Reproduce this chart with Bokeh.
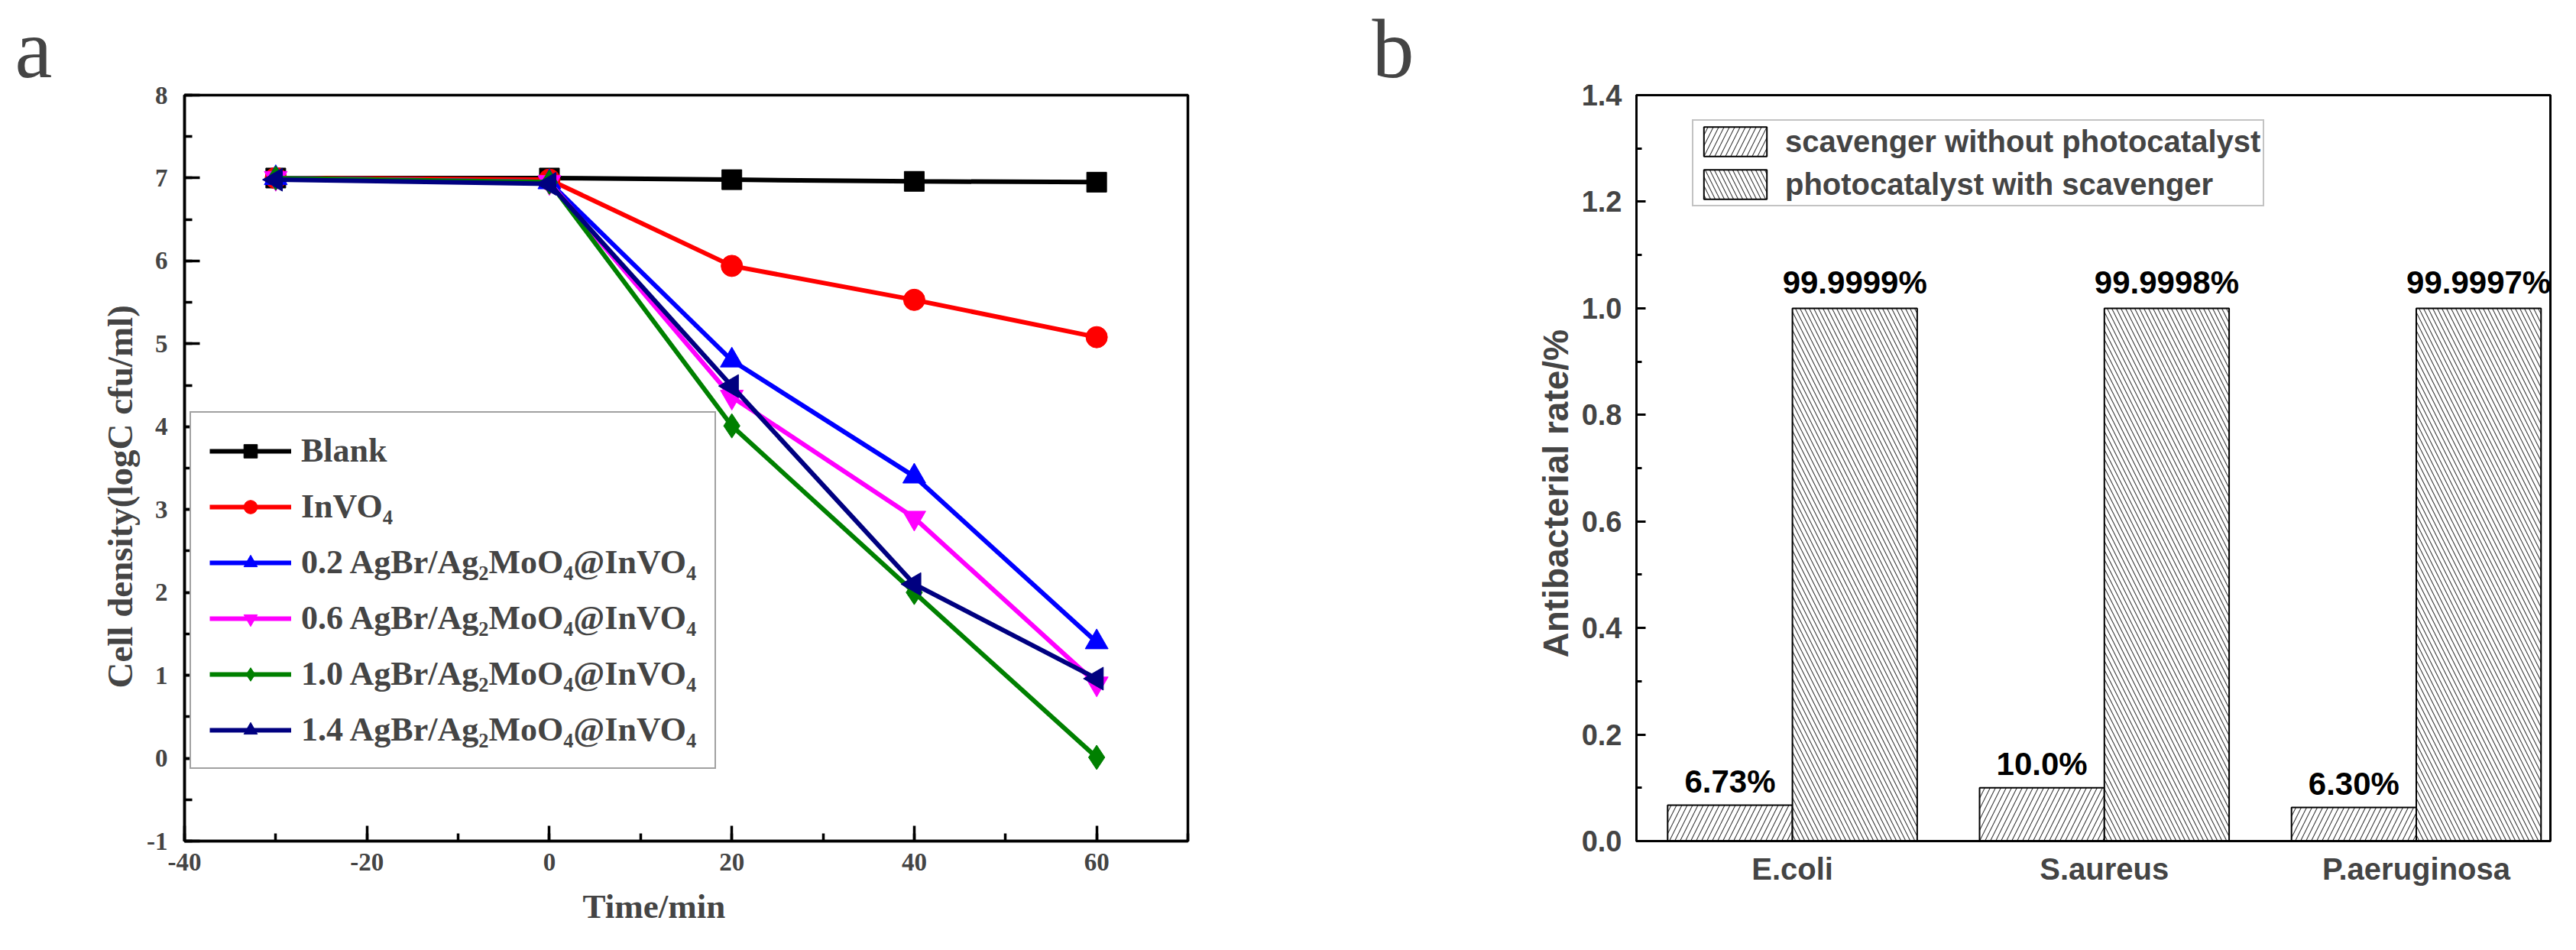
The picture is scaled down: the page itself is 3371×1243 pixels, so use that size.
import math
from bokeh.plotting import figure
from bokeh.models import (Legend, LegendItem, SingleIntervalTicker, FixedTicker, Title,
                          Range1d, ColumnDataSource, NumeralTickFormatter)
from bokeh.layouts import row
from bokeh.transform import dodge
from bokeh.embed import file_html
from bokeh.resources import INLINE
from bokeh.core.properties import value

# ---------------- data: panel a ----------------
time_min = [-30, 0, 20, 40, 60]
blank = [7.0, 7.0, 6.98, 6.96, 6.95]
invo4 = [7.0, 6.98, 5.94, 5.53, 5.08]
agbr_02 = [7.0, 6.95, 4.80, 3.40, 1.40]
agbr_06 = [7.0, 6.95, 4.36, 2.90, 0.90]
agbr_10 = [7.0, 6.95, 4.01, 2.00, 0.01]
agbr_14 = [6.98, 6.93, 4.49, 2.10, 0.96]
series_labels = ["Blank", "InVO\u2084",
                 "0.2 AgBr/Ag\u2082MoO\u2084@InVO\u2084",
                 "0.6 AgBr/Ag\u2082MoO\u2084@InVO\u2084",
                 "1.0 AgBr/Ag\u2082MoO\u2084@InVO\u2084",
                 "1.4 AgBr/Ag\u2082MoO\u2084@InVO\u2084"]
x_ticks_a = [-40, -20, 0, 20, 40, 60]
x_tick_labels_a = ["-40", "-20", "0", "20", "40", "60"]
y_ticks_a = [-1, 0, 1, 2, 3, 4, 5, 6, 7, 8]
y_tick_labels_a = ["-1", "0", "1", "2", "3", "4", "5", "6", "7", "8"]

# ---------------- data: panel b ----------------
bacteria = ["E.coli", "S.aureus", "P.aeruginosa"]
bact_pos = [1, 2, 3]
without_photocat = [0.0673, 0.100, 0.063]
with_scavenger = [0.999999, 0.999998, 0.999997]
without_labels = ["6.73%", "10.0%", "6.30%"]
with_labels = ["99.9999%", "99.9998%", "99.9997%"]
legend_b = ["scavenger without photocatalyst", "photocatalyst with scavenger"]

SERIF = "Liberation Serif"
SANS = "Liberation Sans"

# ================= panel a =================
pa = figure(width=1694, height=1227, output_backend="svg", toolbar_location=None,
            x_range=Range1d(-40, 70), y_range=Range1d(-1, 8),
            min_border_left=241, min_border_right=140, min_border_top=124, min_border_bottom=117,
            background_fill_color="white", border_fill_color="white")
pa.grid.visible = False
pa.outline_line_color = "black"
pa.outline_line_width = 3.5
pa.outline_line_alpha = 1

colors = ["#000000", "#FF0000", "#0000FF", "#FF00FF", "#008000", "#000080"]
markers = ["square", "circle", "triangle", "inverted_triangle", "diamond", "triangle"]
angles = [0, 0, 0, 0, 0, math.pi / 2]
sizes = [26, 28, 30, 30, 32, 30]
data_a = [blank, invo4, agbr_02, agbr_06, agbr_10, agbr_14]

items = []
for lab, ys, c, m, ang, sz in zip(series_labels, data_a, colors, markers, angles, sizes):
    src = ColumnDataSource(dict(x=time_min, y=ys))
    lr = pa.line("x", "y", source=src, line_color=c, line_width=6)
    sr = pa.scatter("x", "y", source=src, marker=m, angle=ang, size=sz,
                    fill_color=c, line_color=c)
    items.append(LegendItem(label=lab, renderers=[lr, sr]))

leg_a = Legend(items=items, location=(7, 94),
               label_text_font=SERIF, label_text_font_style="bold", label_text_font_size="44px",
               glyph_width=107, glyph_height=44, label_height=44, spacing=22, padding=24,
               label_standoff=13, border_line_color="#444444", border_line_width=2,
               background_fill_color="white", background_fill_alpha=1, margin=0)
pa.add_layout(leg_a)

for ax in (pa.xaxis[0], pa.yaxis[0]):
    ax.axis_line_width = 3.5
    ax.major_tick_line_width = 3.5
    ax.minor_tick_line_width = 3.5
    ax.major_tick_in = 20
    ax.major_tick_out = 0
    ax.minor_tick_in = 10
    ax.minor_tick_out = 0
    ax.major_label_text_font = SERIF
    ax.major_label_text_font_style = "bold"
    ax.major_label_text_font_size = "33px"

pa.xaxis[0].ticker = SingleIntervalTicker(interval=20, num_minor_ticks=2)
pa.yaxis[0].ticker = SingleIntervalTicker(interval=1, num_minor_ticks=2)
pa.xaxis[0].major_label_overrides = dict(zip(x_ticks_a, x_tick_labels_a))
pa.yaxis[0].major_label_overrides = dict(zip(y_ticks_a, y_tick_labels_a))
pa.xaxis[0].major_label_standoff = 16
pa.yaxis[0].major_label_standoff = 22

# axis titles placed (off-centre, as in the original) with Title annotations
pa.add_layout(Title(text="Cell density(logC cfu/ml)", align="left", offset=200, standoff=14,
                    text_font=SERIF, text_font_style="bold", text_font_size="47px"), "left")
pa.add_layout(Title(text="Time/min", align="left", offset=521, standoff=34,
                    text_font=SERIF, text_font_style="bold", text_font_size="45px"), "below")
pa.add_layout(Title(text="a", align="left", offset=-222, standoff=0,
                    text_font=SERIF, text_font_style="normal", text_font_size="110px"), "above")

# ================= panel b =================
pb = figure(width=1661, height=1227, output_backend="svg", toolbar_location=None,
            x_range=Range1d(0.5, 3.43), y_range=Range1d(0, 1.4001),
            min_border_left=447, min_border_right=18, min_border_top=120, min_border_bottom=127,
            background_fill_color="white", border_fill_color="white")
pb.grid.visible = False
pb.outline_line_color = "black"
pb.outline_line_width = 3
pb.outline_line_alpha = 1

src_b = ColumnDataSource(dict(x=bact_pos, wo=without_photocat, wi=with_scavenger,
                              lwo=without_labels, lwi=with_labels))
r1 = pb.vbar(x=dodge("x", -0.2, range=pb.x_range), top="wo", width=0.4, bottom=0, source=src_b,
             fill_color="white", line_color="black", line_width=2,
             hatch_pattern="/", hatch_color="#3a3a3a", hatch_scale=14, hatch_weight=1.1)
r2 = pb.vbar(x=dodge("x", 0.2, range=pb.x_range), top="wi", width=0.4, bottom=0, source=src_b,
             fill_color="white", line_color="black", line_width=2,
             hatch_pattern="\\", hatch_color="#3a3a3a", hatch_scale=12, hatch_weight=1.1)
pb.text(x=dodge("x", -0.2, range=pb.x_range), y="wo", text="lwo", source=src_b,
        text_align="center", text_baseline="bottom", y_offset=-8,
        text_font=value(SANS), text_font_style="bold", text_font_size="42px", text_color="black")
pb.text(x=dodge("x", 0.2, range=pb.x_range), y="wi", text="lwi", source=src_b,
        text_align="center", text_baseline="bottom", y_offset=-10,
        text_font=value(SANS), text_font_style="bold", text_font_size="42px", text_color="black")

leg_b = Legend(items=[LegendItem(label=legend_b[0], renderers=[r1]),
                      LegendItem(label=legend_b[1], renderers=[r2])],
               location=(73, 830),
               label_text_font=SANS, label_text_font_style="bold", label_text_font_size="40px",
               glyph_width=103, glyph_height=48, label_height=48, spacing=8, padding=3,
               label_standoff=14, border_line_color="#888888", border_line_width=2,
               background_fill_color="white", background_fill_alpha=1, margin=0)
pb.add_layout(leg_b)

xb = pb.xaxis[0]
yb = pb.yaxis[0]
xb.ticker = FixedTicker(ticks=bact_pos)
xb.major_label_overrides = dict(zip(bact_pos, bacteria))
xb.major_tick_in = 0
xb.major_tick_out = 0
xb.minor_tick_line_color = None
yb.ticker = SingleIntervalTicker(interval=0.2, num_minor_ticks=2)
yb.formatter = NumeralTickFormatter(format="0.0")
yb.major_tick_in = 12
yb.major_tick_out = 0
yb.minor_tick_in = 7
yb.minor_tick_out = 0
for ax in (xb, yb):
    ax.axis_line_width = 3
    ax.major_tick_line_width = 3
    ax.minor_tick_line_width = 3
    ax.major_label_text_font = SANS
    ax.major_label_text_font_style = "bold"
yb.major_label_text_font_size = "38px"
xb.major_label_text_font_size = "40px"
yb.major_label_standoff = 19
xb.major_label_standoff = 14

pb.add_layout(Title(text="Antibacterial rate/%", align="left", offset=240, standoff=10,
                    text_font=SANS, text_font_style="bold", text_font_size="46px"), "left")
pb.add_layout(Title(text="b", align="left", offset=-346, standoff=0,
                    text_font=SERIF, text_font_style="normal", text_font_size="110px"), "above")

layout = row(pa, pb)
open("out.html", "w").write(file_html(layout, INLINE))
